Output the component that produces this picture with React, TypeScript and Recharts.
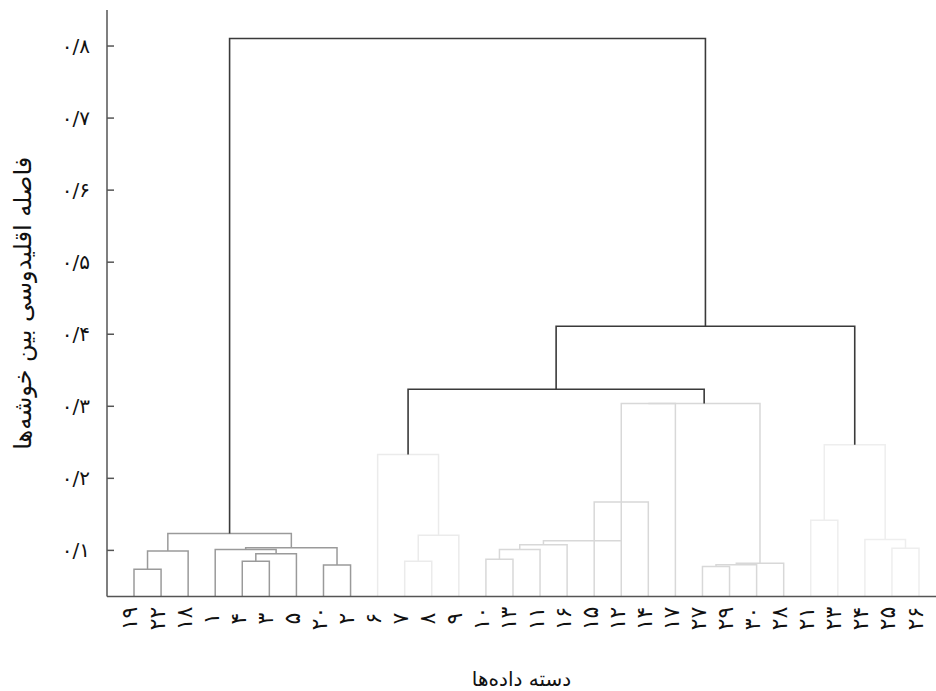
import React from 'react';
import { LineChart, Line, XAxis, YAxis } from 'recharts';

// Leaf labels in dendrogram order (left to right)
const leafLabels = [
  '۱۹', '۲۲', '۱۸', '۱', '۴', '۳', '۵', '۲۰', '۲',
  '۶', '۷', '۸', '۹',
  '۱۰', '۱۳', '۱۱', '۱۶', '۱۵', '۱۲', '۱۴', '۱۷', '۲۷', '۲۹', '۳۰', '۲۸',
  '۲۱', '۲۳', '۲۴', '۲۵', '۲۶',
];

const yTicks = [0.1, 0.2, 0.3, 0.4, 0.5, 0.6, 0.7, 0.8];
const yTickLabels = ['۰/۱', '۰/۲', '۰/۳', '۰/۴', '۰/۵', '۰/۶', '۰/۷', '۰/۸'];

// Merges: ids 0..29 are leaves (by position), id 30+k is merge k
const mergeLeft = [0, 30, 4, 32, 3, 7, 34, 31, 10, 38, 9, 13, 41, 42, 43, 17, 44, 21, 47, 48, 46, 50, 40, 25, 28, 27, 53, 52, 37];
const mergeRight = [1, 2, 5, 6, 33, 8, 35, 36, 11, 12, 39, 14, 15, 16, 18, 19, 45, 22, 23, 24, 20, 49, 51, 26, 29, 54, 55, 56, 57];
const mergeHeight = [
  0.0737, 0.099, 0.085, 0.0954, 0.1014, 0.0797, 0.1037, 0.1235,
  0.085, 0.121, 0.233,
  0.0876, 0.1014, 0.1079, 0.1134, 0.167, 0.167, 0.0775, 0.0802, 0.082, 0.304, 0.304,
  0.3236,
  0.142, 0.103, 0.115, 0.2466,
  0.411, 0.8105,
];
const mergeGroup = [
  'g1', 'g1', 'g1', 'g1', 'g1', 'g1', 'g1', 'g1',
  'g2', 'g2', 'g2',
  'g3', 'g3', 'g3', 'g3', 'g3', 'g3', 'g3', 'g3', 'g3', 'g3', 'g3',
  'top',
  'g4', 'g4', 'g4', 'g4',
  'top', 'top',
];
// merges drawn with their stem on the right child instead of the midpoint
const anchorRightMerges = [14];

const groupColors: Record<string, string> = {
  g1: '#9a9a9a',
  g2: '#ebebeb',
  g3: '#d8d8d8',
  g4: '#eeeeee',
  top: '#3a3a3a',
};

const Y_MIN = 0.036;
const Y_MAX = 0.85;
const X_MIN = -0.9974;
const X_MAX = 29.627;
const FONT = '"DejaVu Sans", sans-serif';

function buildLinks() {
  const n = leafLabels.length;
  const pos: number[] = [];
  const hgt: number[] = [];
  for (let i = 0; i < n; i++) {
    pos[i] = i;
    hgt[i] = Y_MIN;
  }
  return mergeHeight.map((h, k) => {
    const a = mergeLeft[k];
    const b = mergeRight[k];
    const id = n + k;
    pos[id] = anchorRightMerges.includes(k) ? pos[b] : (pos[a] + pos[b]) / 2;
    hgt[id] = h;
    return {
      key: 'm' + k,
      group: mergeGroup[k],
      data: [
        { x: pos[a], y: hgt[a] },
        { x: pos[a], y: h },
        { x: pos[b], y: h },
        { x: pos[b], y: hgt[b] },
      ],
    };
  });
}

const links = buildLinks();
const leafTicks = leafLabels.map((_, i) => i);

const XTick = (props: any) => {
  const { x, y, index } = props;
  const cx = x - 4;
  const cy = y + 22;
  return (
    <g transform={`translate(${cx} ${cy}) rotate(-90)`}>
      <text
        x={0}
        y={0}
        textAnchor="middle"
        dominantBaseline="central"
        fontSize={22}
        fontFamily={FONT}
        fill="#111"
      >
        {leafLabels[index]}
      </text>
    </g>
  );
};

const YTick = (props: any) => {
  const { x, y, index } = props;
  return (
    <g>
      <line x1={x} x2={x + 7} y1={y} y2={y} stroke="#555" strokeWidth={1.5} />
      <text
        x={x - 17}
        y={y}
        textAnchor="end"
        dominantBaseline="central"
        fontSize={20}
        fontFamily={FONT}
        fill="#111"
      >
        {yTickLabels[index]}
      </text>
    </g>
  );
};

export default function App() {
  // draw lighter groups first, dark top links last
  const order = ['g4', 'g2', 'g3', 'g1', 'top'];
  const sorted = [...links].sort((p, q) => order.indexOf(p.group) - order.indexOf(q.group));
  return (
    <div style={{ position: 'absolute', left: 0, top: 0, background: '#fff' }}>
      <LineChart width={936} height={691} margin={{ top: 10, right: 0, bottom: 0, left: 0 }}>
        <XAxis
          type="number"
          dataKey="x"
          domain={[X_MIN, X_MAX]}
          allowDataOverflow
          ticks={leafTicks}
          interval={0}
          tick={<XTick />}
          tickLine={false}
          tickSize={0}
          tickMargin={0}
          axisLine={{ stroke: '#555', strokeWidth: 1.5 }}
          height={94.5}
          label={{
            value: 'دسته داده\u200cها',
            position: 'insideBottom',
            offset: 5,
            style: { fontSize: 20, fontFamily: FONT, fill: '#111' },
          }}
        />
        <YAxis
          type="number"
          dataKey="y"
          domain={[Y_MIN, Y_MAX]}
          allowDataOverflow
          ticks={yTicks}
          interval={0}
          tick={<YTick />}
          tickLine={false}
          tickSize={0}
          tickMargin={0}
          axisLine={{ stroke: '#555', strokeWidth: 1.5 }}
          width={107}
          label={{
            value: 'فاصله اقلیدوسی بین خوشه\u200cها',
            angle: -90,
            position: 'insideLeft',
            offset: 22,
            style: { textAnchor: 'middle', fontSize: 24, fontFamily: FONT, fill: '#111' },
          }}
        />
        {sorted.map((l) => (
          <Line
            key={l.key}
            data={l.data}
            dataKey="y"
            type="linear"
            stroke={groupColors[l.group]}
            strokeWidth={l.group === 'top' ? 1.6 : 1.5}
            dot={false}
            activeDot={false}
            isAnimationActive={false}
            legendType="none"
          />
        ))}
      </LineChart>
    </div>
  );
}
